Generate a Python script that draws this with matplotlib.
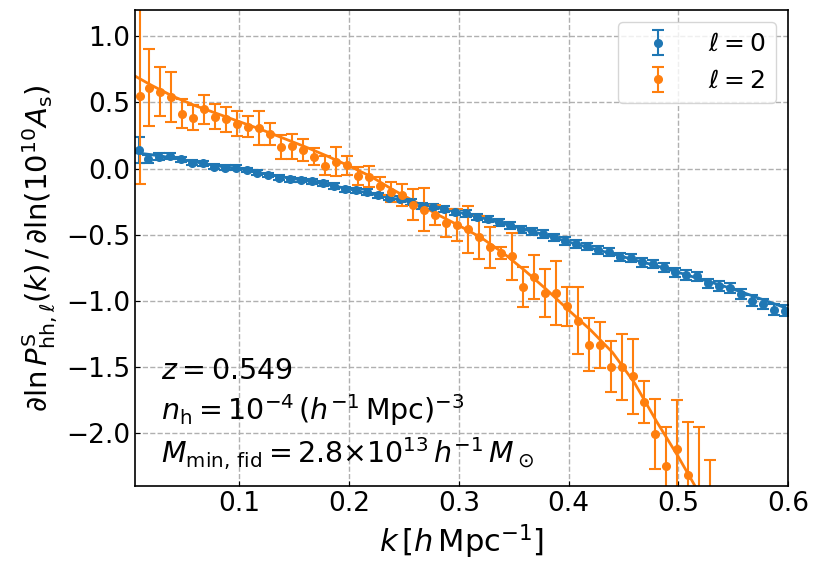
import matplotlib
matplotlib.use("Agg")
import matplotlib.pyplot as plt
import numpy as np

# bin centres in k [h/Mpc]
k_bins = [0.0093, 0.0175, 0.0275, 0.0375, 0.0475, 0.0575, 0.0675, 0.0775, 0.0875, 0.0975,
          0.1075, 0.1175, 0.1275, 0.1375, 0.1475, 0.1575, 0.1675, 0.1775, 0.1875, 0.1975,
          0.2075, 0.2175, 0.2275, 0.2375, 0.2475, 0.2575, 0.2675, 0.2775, 0.2875, 0.2975,
          0.3075, 0.3175, 0.3275, 0.3375, 0.3475, 0.3575, 0.3675, 0.3775, 0.3875, 0.3975,
          0.4075, 0.4175, 0.4275, 0.4375, 0.4475, 0.4575, 0.4675, 0.4775, 0.4875, 0.4975,
          0.5075, 0.5175, 0.5275, 0.5375, 0.5475, 0.5575, 0.5675, 0.5775, 0.5875, 0.5975]

# monopole (ell = 0) measurements
mono = [0.14, 0.075, 0.09, 0.095, 0.07, 0.045, 0.04, 0.015, 0.008, 0.008,
        -0.01, -0.03, -0.048, -0.068, -0.081, -0.086, -0.096, -0.111, -0.131, -0.156,
        -0.164, -0.176, -0.201, -0.219, -0.232, -0.252, -0.282, -0.287, -0.307, -0.327,
        -0.339, -0.365, -0.382, -0.407, -0.428, -0.458, -0.475, -0.495, -0.52, -0.546,
        -0.571, -0.588, -0.614, -0.634, -0.671, -0.676, -0.709, -0.722, -0.747, -0.784,
        -0.805, -0.814, -0.867, -0.89, -0.905, -0.948, -0.998, -1.023, -1.066, -1.074]
mono_err = [0.095, 0.03, 0.025, 0.022, 0.02, 0.02, 0.018, 0.018, 0.018, 0.018,
            0.018, 0.018, 0.018, 0.018, 0.018, 0.018, 0.018, 0.018, 0.02, 0.02,
            0.02, 0.02, 0.02, 0.02, 0.022, 0.022, 0.022, 0.022, 0.022, 0.024,
            0.024, 0.024, 0.025, 0.025, 0.025, 0.026, 0.026, 0.027, 0.027, 0.028,
            0.028, 0.029, 0.03, 0.03, 0.031, 0.031, 0.032, 0.033, 0.033, 0.034,
            0.035, 0.035, 0.036, 0.037, 0.038, 0.038, 0.04, 0.04, 0.042, 0.043]

# quadrupole (ell = 2) measurements (the rest fall below the plot)
quad = [0.547, 0.611, 0.581, 0.54, 0.415, 0.385, 0.447, 0.392, 0.372, 0.339,
        0.317, 0.306, 0.259, 0.163, 0.17, 0.142, 0.09, 0.022, 0.053, 0.025,
        -0.056, -0.063, -0.131, -0.174, -0.199, -0.274, -0.312, -0.352, -0.413, -0.428,
        -0.458, -0.52, -0.596, -0.639, -0.664, -0.893, -0.817, -0.94, -0.94, -1.041,
        -1.149, -1.33, -1.331, -1.496, -1.5, -1.571, -1.765, -2.004, -2.25, -2.117,
        -2.318, -2.45, -2.6]
quad_err = [0.66, 0.29, 0.185, 0.187, 0.11, 0.096, 0.11, 0.095, 0.096, 0.093,
            0.078, 0.129, 0.083, 0.09, 0.094, 0.084, 0.062, 0.07, 0.11, 0.07,
            0.067, 0.08, 0.07, 0.075, 0.085, 0.117, 0.163, 0.075, 0.107, 0.12,
            0.178, 0.16, 0.155, 0.045, 0.18, 0.15, 0.165, 0.18, 0.245, 0.145,
            0.255, 0.2, 0.175, 0.19, 0.25, 0.285, 0.156, 0.266, 0.3, 0.365,
            0.4, 0.5, 0.4]

# theory curves
k_theory = [0.005, 0.02, 0.04, 0.06, 0.08, 0.10, 0.12, 0.14, 0.16, 0.18,
            0.20, 0.22, 0.24, 0.26, 0.28, 0.30, 0.32, 0.34, 0.36, 0.38,
            0.40, 0.42, 0.44, 0.46, 0.48, 0.50, 0.52, 0.54, 0.56, 0.58, 0.60]
mono_theory = [0.12, 0.105, 0.08, 0.05, 0.02, 0.0, -0.035, -0.065, -0.09, -0.12,
               -0.155, -0.19, -0.225, -0.26, -0.295, -0.33, -0.37, -0.415, -0.46, -0.505,
               -0.555, -0.60, -0.645, -0.69, -0.735, -0.785, -0.835, -0.885, -0.94, -1.0, -1.06]
quad_theory = [0.70, 0.63, 0.545, 0.475, 0.415, 0.355, 0.295, 0.23, 0.165, 0.095,
               0.02, -0.06, -0.16, -0.25, -0.345, -0.43, -0.52, -0.635, -0.77, -0.915,
               -1.07, -1.22, -1.39, -1.62, -1.91, -2.18, -2.47, -2.8, -3.1, -3.4, -3.7]

dk = 0.0008  # small shift so the two series don't overlap

fig, ax = plt.subplots(figsize=(8.22, 5.74), dpi=100)
fig.subplots_adjust(left=0.164, right=0.959, top=0.983, bottom=0.153)

k = np.array(k_bins)
ax.plot(k_theory, mono_theory, color="C0", lw=2.0)
ax.plot(k_theory, quad_theory, color="C1", lw=2.0)
ax.errorbar(k - dk, mono, yerr=mono_err, fmt="o", color="C0", ms=5.5,
            capsize=4.5, elinewidth=1.5, capthick=1.5, label=r"$\ell=0$")
ax.errorbar(k[:len(quad)] + dk, quad, yerr=quad_err, fmt="o", color="C1", ms=5.5,
            capsize=4.5, elinewidth=1.5, capthick=1.5, label=r"$\ell=2$")

ax.set_xlim(0.005, 0.6)
ax.set_ylim(-2.4, 1.2)
ax.set_xticks([0.1, 0.2, 0.3, 0.4, 0.5, 0.6])
ax.set_yticks([-2.0, -1.5, -1.0, -0.5, 0.0, 0.5, 1.0])
ax.grid(True, ls="--", color="#b0b0b0", lw=1.0)
ax.tick_params(direction="in", labelsize=19)
for sp in ax.spines.values():
    sp.set_linewidth(1.2)

ax.set_xlabel(r"$k\,[h\,\mathrm{Mpc}^{-1}]$", fontsize=22)
ax.set_ylabel(r"$\partial\ln P^{\rm S}_{{\rm hh},\ell}(k)\,/\,\partial\ln(10^{10}A_{\rm s})$",
              fontsize=21)

ax.text(0.04, 0.226, r"$z=0.549$", transform=ax.transAxes, fontsize=20.5, va="baseline")
ax.text(0.04, 0.139, r"$n_{\rm h}=10^{-4}\,(h^{-1}\,\mathrm{Mpc})^{-3}$",
        transform=ax.transAxes, fontsize=20.5, va="baseline")
ax.text(0.04, 0.049, r"$M_{\rm min,\,fid}=2.8{\times}10^{13}\,h^{-1}\,M_\odot$",
        transform=ax.transAxes, fontsize=20.5, va="baseline")

ax.legend(loc="upper right", fontsize=18, handlelength=2.4)

fig.savefig("out.png", dpi=100)
